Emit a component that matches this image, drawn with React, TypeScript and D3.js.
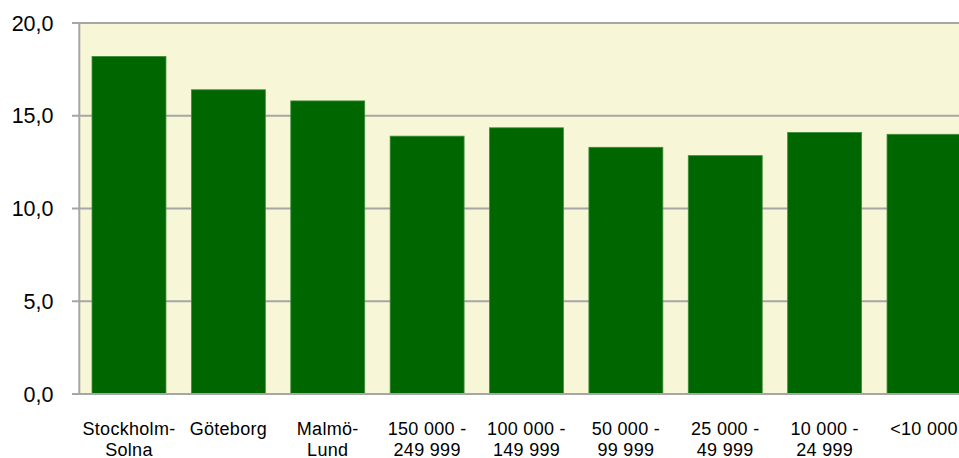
import React from "react";
import * as d3 from "d3";

const categories: string[][] = [
  ["Stockholm-", "Solna"],
  ["Göteborg"],
  ["Malmö-", "Lund"],
  ["150 000 -", "249 999"],
  ["100 000 -", "149 999"],
  ["50 000 -", "99 999"],
  ["25 000 -", "49 999"],
  ["10 000 -", "24 999"],
  ["<10 000"],
];
const values: number[] = [18.2, 16.4, 15.8, 13.9, 14.35, 13.3, 12.85, 14.1, 14.0];
const yTicks: number[] = [0, 5, 10, 15, 20];

const W = 959;
const H = 458;
const left = 79.3;
const right = 973.7;
const top = 23;
const bottom = 394;

export default function App() {
  const x = d3
    .scaleBand<number>()
    .domain(categories.map((_, i) => i))
    .range([left, right])
    .paddingInner(0.256)
    .paddingOuter(0.128);
  const y = d3.scaleLinear().domain([0, 20]).range([bottom, top]);
  const fmt = (v: number) => v.toFixed(1).replace(".", ",");
  return (
    <svg
      width={W}
      height={H}
      style={{ position: "absolute", left: 0, top: 0, fontFamily: "'Liberation Sans', Arial, sans-serif" }}
    >
      <rect x={left} y={top} width={right - left} height={bottom - top} fill="#F7F7D8" />
      {yTicks.map((t) => (
        <g key={t}>
          <line x1={72} x2={right} y1={y(t)} y2={y(t)} stroke="#A6A6A6" strokeWidth={2} />
          <text x={53.5} y={y(t) + 7.5} textAnchor="end" fontSize={21.5} fill="#000">
            {fmt(t)}
          </text>
        </g>
      ))}
      <line x1={left} x2={left} y1={top} y2={bottom} stroke="#A6A6A6" strokeWidth={2} />
      {values.map((v, i) => (
        <rect
          key={i}
          x={x(i)!}
          y={y(v)}
          width={x.bandwidth()}
          height={y(0) - y(v)}
          fill="#006600"
          stroke="#3E8E3E"
          strokeWidth={0.8}
        />
      ))}
      <line x1={left} x2={right} y1={bottom} y2={bottom} stroke="#A6A6A6" strokeWidth={2} />
      {categories.map((lines, i) => (
        <text
          key={i}
          x={x(i)! + x.bandwidth() / 2}
          y={434.5}
          textAnchor="middle"
          fontSize={18}
          letterSpacing={0.3}
          fill="#000"
        >
          {lines.map((l, j) => (
            <tspan key={j} x={x(i)! + x.bandwidth() / 2} dy={j === 0 ? 0 : 21}>
              {l}
            </tspan>
          ))}
        </text>
      ))}
    </svg>
  );
}
